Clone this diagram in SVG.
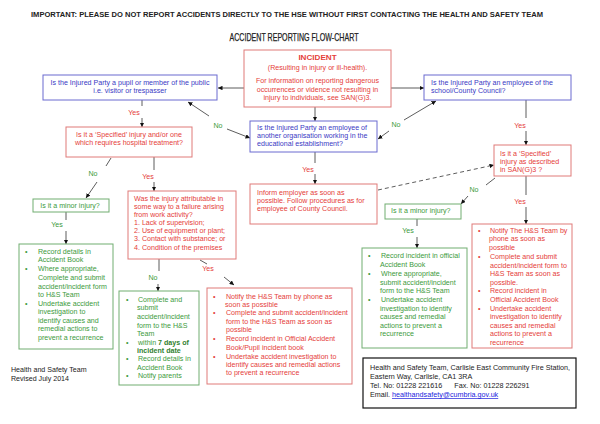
<svg xmlns="http://www.w3.org/2000/svg" width="600" height="424" viewBox="0 0 600 424">
<defs>
<marker id="ah" viewBox="0 0 6 6" refX="6" refY="3" markerWidth="4.5" markerHeight="4.5" markerUnits="userSpaceOnUse" orient="auto"><path d="M0,0 L6,3 L0,6 z" fill="#111"/></marker>
<style>
text{font-family:"Liberation Sans",Arial,sans-serif;font-size:7.1px}
.rt{fill:#e5403a}.bt{fill:#3a3ac4}.gt{fill:#3c9a3c}.kt{fill:#222}
.rb{fill:#fff;stroke:#e07a78;stroke-width:1}
.bb{fill:#fff;stroke:#6a6ad0;stroke-width:1}
.gb{fill:#fff;stroke:#70ad70;stroke-width:1}
.c line{stroke:#333;stroke-width:0.8}
.c .a{marker-end:url(#ah)}
.c .d{stroke-dasharray:4,3}
.lab{font-size:7.1px}
.m{text-anchor:middle}
</style>
</defs>
<rect width="600" height="424" fill="#fff"/>
<text x="287" y="16.5" class="m kt" style="font-size:6.8px;font-weight:bold" textLength="512" lengthAdjust="spacingAndGlyphs">IMPORTANT: PLEASE DO NOT REPORT ACCIDENTS DIRECTLY TO THE HSE WITHOUT FIRST CONTACTING THE HEALTH AND SAFETY TEAM</text>
<text x="294" y="41" class="m kt" style="font-size:10.5px;stroke:#222;stroke-width:0.25" textLength="129" lengthAdjust="spacingAndGlyphs">ACCIDENT REPORTING FLOW-CHART</text>

<g class="c">
<line class="a" x1="244" y1="88" x2="218" y2="88"/>
<line class="a" x1="391" y1="88" x2="424" y2="88"/>
<line class="a" x1="315" y1="107" x2="315" y2="121"/>
<line class="a" x1="209" y1="116" x2="188" y2="102"/>
<line class="a" x1="227" y1="129" x2="250" y2="138"/>
<line class="a" x1="404" y1="120" x2="436" y2="101"/>
<line class="a" x1="389" y1="131" x2="378" y2="139"/>
<line x1="142" y1="100" x2="142" y2="106"/>
<line class="a" x1="142" y1="118" x2="142" y2="127"/>
<line x1="111" y1="158" x2="106" y2="166"/>
<line class="a" x1="97" y1="182" x2="86" y2="198"/>
<line x1="154" y1="157" x2="154" y2="170"/>
<line class="a" x1="154" y1="182" x2="154" y2="191"/>
<line x1="315" y1="152" x2="315" y2="163"/>
<line class="a" x1="315" y1="174" x2="315" y2="184"/>
<line class="a d" x1="378" y1="190" x2="494" y2="165"/>
<line x1="526" y1="100" x2="526" y2="118"/>
<line class="a" x1="526" y1="131" x2="526" y2="145"/>
<line x1="495" y1="178" x2="486" y2="185"/>
<line class="a" x1="468" y1="196" x2="461" y2="204"/>
<line x1="526" y1="176" x2="526" y2="195"/>
<line class="a" x1="526" y1="207" x2="526" y2="224"/>
<line x1="66" y1="212" x2="66" y2="220"/>
<line class="a" x1="66" y1="231" x2="66" y2="244"/>
<line x1="417" y1="219" x2="417" y2="226"/>
<line class="a" x1="417" y1="237" x2="417" y2="248"/>
<line x1="159" y1="259" x2="159" y2="271"/>
<line class="a" x1="158" y1="284" x2="158" y2="291"/>
<line x1="200" y1="260" x2="207" y2="264"/>
<line class="a" x1="224" y1="277" x2="234" y2="285"/>
</g>

<g id="labels">
<text x="218" y="127.5" class="m gt lab">No</text>
<text x="396" y="126.5" class="m gt lab">No</text>
<text x="134" y="114.5" class="m rt lab">Yes</text>
<text x="93" y="175.5" class="m gt lab">No</text>
<text x="148" y="178.5" class="m rt lab">Yes</text>
<text x="308" y="171.5" class="m rt lab">Yes</text>
<text x="520" y="127.5" class="m rt lab">Yes</text>
<text x="474" y="191.5" class="m gt lab">No</text>
<text x="520" y="203.5" class="m rt lab">Yes</text>
<text x="57" y="226.5" class="m gt lab">Yes</text>
<text x="408" y="232.5" class="m gt lab">Yes</text>
<text x="153" y="279.5" class="m gt lab">No</text>
<text x="208" y="270.5" class="m rt lab">Yes</text>
</g>

<g id="incident">
<rect class="rb" x="244" y="50" width="147" height="57"/>
<text x="317.5" y="60" class="m rt" style="font-size:8.1px;font-weight:bold">INCIDENT</text>
<text x="317.5" y="69.5" class="m rt">(Resulting in injury or ill-health).</text>
<text x="317.5" y="83" class="m rt">For information on reporting dangerous</text>
<text x="317.5" y="91.5" class="m rt">occurrences or vidence not resulting in</text>
<text x="317.5" y="99.5" class="m rt">injury to individuals, see SAN(G)3.</text>
</g>

<g id="pupil">
<rect class="bb" x="43" y="75" width="174" height="25"/>
<text x="130" y="84.5" class="m bt">Is the Injured Party a pupil or member of the public</text>
<text x="130" y="93" class="m bt">i.e. visitor or trespasser</text>
</g>

<g id="school">
<rect class="bb" x="424" y="75" width="147" height="25"/>
<text x="431" y="84.5" class="bt">Is the Injured Party an employee of the</text>
<text x="431" y="93" class="bt">school/County Council?</text>
</g>

<g id="other-org">
<rect class="bb" x="250" y="121" width="127" height="31"/>
<text x="257" y="129.5" class="bt">Is the Injured Party an employee of</text>
<text x="257" y="137.5" class="bt">another organisation working in the</text>
<text x="257" y="145.5" class="bt">educational establishment?</text>
</g>

<g id="specified1">
<rect class="rb" x="66" y="127" width="126" height="30"/>
<text x="129" y="136.5" class="m rt">Is it a ‘Specified’ injury and/or one</text>
<text x="129" y="144.5" class="m rt">which requires hospital treatment?</text>
</g>

<g id="minor1">
<rect class="gb" x="33" y="199" width="76" height="13"/>
<text x="70" y="208" class="m gt">Is it a minor injury?</text>
</g>

<g id="work-activity">
<rect class="rb" x="128" y="191" width="108" height="68"/>
<text x="134" y="200.5" class="rt">Was the injury attributable in</text>
<text x="134" y="208.5" class="rt">some way to a failure arising</text>
<text x="134" y="216.5" class="rt">from  work activity?</text>
<text x="134" y="225" class="rt">1. Lack of supervision;</text>
<text x="134" y="233" class="rt">2. Use of equipment or plant;</text>
<text x="134" y="241" class="rt">3. Contact with substance; or</text>
<text x="134" y="249.5" class="rt">4. Condition of the premises</text>
</g>

<g id="inform">
<rect class="rb" x="250" y="184" width="127" height="40"/>
<text x="257" y="194.5" class="rt">Inform employer as soon as</text>
<text x="257" y="202.5" class="rt">possible.  Follow procedures as for</text>
<text x="257" y="210.5" class="rt">employee of County Council.</text>
</g>

<g id="specified2">
<rect class="rb" x="494" y="145" width="77" height="31"/>
<text x="500" y="155.5" class="rt">Is it a ‘Specified’</text>
<text x="500" y="163.5" class="rt">injury as described</text>
<text x="500" y="171.5" class="rt">in SAN(G)3 ?</text>
</g>

<g id="minor2">
<rect class="gb" x="385" y="204" width="76" height="15"/>
<text x="391" y="213" class="gt">Is it a minor injury?</text>
</g>

<g id="green1">
<rect class="gb" x="19" y="244" width="94" height="105"/>
<text x="25" y="253.5" class="gt">•</text>
<text x="38" y="253.5" class="gt">Record details in</text>
<text x="38" y="262" class="gt">Accident Book</text>
<text x="25" y="271" class="gt">•</text>
<text x="38" y="271" class="gt">Where appropriate,</text>
<text x="38" y="280" class="gt">Complete and submit</text>
<text x="38" y="289" class="gt">accident/incident form</text>
<text x="38" y="297" class="gt">to H&amp;S Team</text>
<text x="25" y="305.5" class="gt">•</text>
<text x="38" y="305.5" class="gt">Undertake accident</text>
<text x="38" y="314" class="gt">investigation to</text>
<text x="38" y="322.5" class="gt">identify causes and</text>
<text x="38" y="331" class="gt">remedial actions to</text>
<text x="38" y="339.5" class="gt">prevent a recurrence</text>
</g>

<g id="green3">
<rect class="gb" x="119" y="291" width="80" height="94"/>
<text x="126" y="301.5" class="gt">•</text>
<text x="138" y="301.5" class="gt">Complete and</text>
<text x="137" y="310" class="gt">submit</text>
<text x="137" y="319" class="gt">accident/incident</text>
<text x="137" y="327.5" class="gt">form to the H&amp;S</text>
<text x="137" y="335.5" class="gt">Team</text>
<text x="126" y="344.5" class="gt">•</text>
<text x="138" y="344.5" class="gt">within  <tspan style="font-weight:bold;fill:#2f7f2f">7 days of</tspan></text>
<text x="137" y="352.5" class="gt" style="font-weight:bold;fill:#2f7f2f">incident date</text>
<text x="126" y="360.5" class="gt">•</text>
<text x="138" y="360.5" class="gt">Record details in</text>
<text x="137" y="369.5" class="gt">Accident Book</text>
<text x="126" y="378" class="gt">•</text>
<text x="138" y="378" class="gt">Notify parents</text>
</g>

<g id="red3">
<rect class="rb" x="207" y="288" width="145" height="96"/>
<text x="213" y="298.5" class="rt">•</text>
<text x="226" y="298.5" class="rt">Notify  the H&amp;S Team by phone as</text>
<text x="225" y="306.5" class="rt">soon as possible</text>
<text x="213" y="314.5" class="rt">•</text>
<text x="226" y="314.5" class="rt">Complete and submit accident/incident</text>
<text x="226" y="323.5" class="rt">form to the H&amp;S Team as soon as</text>
<text x="226" y="331.5" class="rt">possible</text>
<text x="213" y="340.5" class="rt">•</text>
<text x="226" y="340.5" class="rt">Record incident in Official Accident</text>
<text x="226" y="349.5" class="rt">Book/Pupil incident book</text>
<text x="213" y="358.5" class="rt">•</text>
<text x="226" y="358.5" class="rt">Undertake accident investigation to</text>
<text x="226" y="366.5" class="rt">identify causes and remedial actions</text>
<text x="226" y="374.5" class="rt">to prevent a recurrence</text>
</g>

<g id="green2">
<rect class="gb" x="362" y="248" width="105" height="100"/>
<text x="368" y="258" class="gt">•</text>
<text x="381" y="258" class="gt">Record incident in official</text>
<text x="380" y="266.5" class="gt">Accident Book</text>
<text x="368" y="276" class="gt">•</text>
<text x="381" y="276" class="gt">Where appropriate,</text>
<text x="380" y="284.5" class="gt">submit accident/incident</text>
<text x="380" y="293" class="gt">form to the H&amp;S Team</text>
<text x="368" y="302" class="gt">•</text>
<text x="381" y="302" class="gt">Undertake accident</text>
<text x="380" y="310.5" class="gt">investigation to identify</text>
<text x="380" y="319" class="gt">causes and remedial</text>
<text x="380" y="327.5" class="gt">actions to prevent a</text>
<text x="380" y="336" class="gt">recurrence</text>
</g>

<g id="red2">
<rect class="rb" x="472" y="224" width="100" height="124"/>
<text x="478" y="232.5" class="rt">•</text>
<text x="490" y="232.5" class="rt">Notify The H&amp;S Team by</text>
<text x="489" y="241" class="rt">phone as soon as</text>
<text x="489" y="250" class="rt">possible</text>
<text x="478" y="259" class="rt">•</text>
<text x="490" y="259" class="rt">Complete and submit</text>
<text x="490" y="267.5" class="rt">accident/incident form to</text>
<text x="490" y="276" class="rt">H&amp;S Team as soon as</text>
<text x="490" y="284.5" class="rt">possible.</text>
<text x="478" y="293" class="rt">•</text>
<text x="490" y="293" class="rt">Record incident in</text>
<text x="490" y="301.5" class="rt">Official Accident Book</text>
<text x="478" y="310.5" class="rt">•</text>
<text x="490" y="310.5" class="rt">Undertake accident</text>
<text x="490" y="319" class="rt">investigation to identify</text>
<text x="490" y="327.5" class="rt">causes and remedial</text>
<text x="490" y="336" class="rt">actions to prevent a</text>
<text x="490" y="344.5" class="rt">recurrence</text>
</g>

<g id="footer">
<text x="11" y="372" class="kt">Health and Safety Team</text>
<text x="11" y="380.5" class="kt">Revised July 2014</text>
</g>

<g id="contact">
<rect x="363" y="358" width="213" height="50" fill="#fff" stroke="#111" stroke-width="1.2"/>
<text x="370" y="370" class="kt" style="font-size:7.2px">Health and Safety Team, Carlisle East Community Fire Station,</text>
<text x="370" y="379" class="kt" style="font-size:7.2px">Eastern Way, Carlisle, CA1 3RA</text>
<text x="370" y="388" class="kt" style="font-size:7.2px" xml:space="preserve">Tel. No: 01228 221616      Fax. No: 01228 226291</text>
<text x="370" y="397" class="kt" style="font-size:7.2px">Email. <tspan style="fill:#2222dd;text-decoration:underline">healthandsafety@cumbria.gov.uk</tspan></text>
</g>
</svg>
